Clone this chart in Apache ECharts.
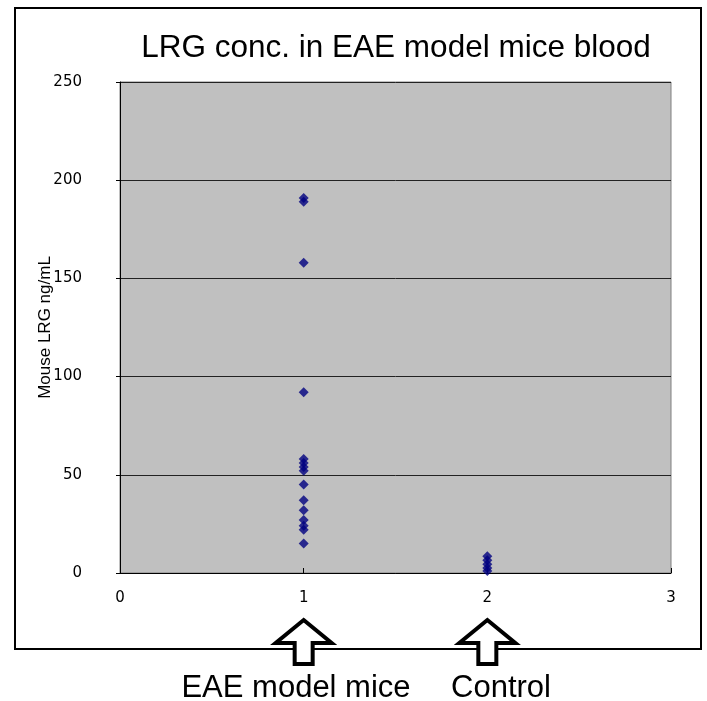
<!DOCTYPE html>
<html>
<head>
<meta charset="utf-8">
<script src="https://cdn.jsdelivr.net/npm/echarts@6/dist/echarts.min.js"></script>
<style>
html,body{margin:0;padding:0;background:#fff;}
#main{width:707px;height:701px;}
</style>
</head>
<body>
<div id="main"></div>
<script>
var titleText = 'LRG conc. in EAE model mice blood';
var yAxisName = 'Mouse LRG ng/mL';
var groupLabels = ['EAE model mice', 'Control'];
var groupX = [1, 2];
var eaeValues = [191, 189, 158, 92, 58, 56, 54, 52, 45, 37, 32, 27, 24, 22, 15];
var controlValues = [8.5, 6.5, 4.5, 2.5, 1];
var yTicks = [0, 50, 100, 150, 200, 250];
var xTicks = [0, 1, 2, 3];

var chart = echarts.init(document.getElementById('main'), null, {renderer: 'canvas'});

function pairs(x, vals) { return vals.map(function (v) { return [x, v]; }); }

var option = {
  backgroundColor: '#ffffff',
  animation: false,
  title: {
    text: titleText,
    left: 391, top: 27, textAlign: 'center',
    textStyle: {fontFamily: 'Liberation Sans', fontWeight: 'normal', fontSize: 31.5, color: '#000'}
  },
  grid: {left: 120, top: 82, right: 36, bottom: 128, show: true, backgroundColor: '#c0c0c0', borderColor: '#808080', borderWidth: 1},
  xAxis: {
    type: 'value', min: xTicks[0], max: xTicks[xTicks.length - 1], interval: 1,
    axisLine: {show: true, onZero: false, lineStyle: {color: '#000', width: 1}},
    axisTick: {show: true, inside: true, length: 5, lineStyle: {color: '#000'}},
    splitLine: {show: false},
    axisLabel: {margin: 18, fontFamily: 'DejaVu Sans', fontSize: 15, color: '#000'}
  },
  yAxis: {
    type: 'value', min: yTicks[0], max: yTicks[yTicks.length - 1], interval: 50,
    name: yAxisName, nameLocation: 'middle', nameGap: 66, nameRotate: 90, nameMoveOverlap: false,
    nameTextStyle: {fontFamily: 'Liberation Sans', fontSize: 17, color: '#000'},
    axisLine: {show: true, lineStyle: {color: '#000', width: 1}},
    axisTick: {show: true, inside: false, length: 4, lineStyle: {color: '#000'}},
    splitLine: {show: true, lineStyle: {color: '#222', width: 1}},
    axisLabel: {margin: 38, fontFamily: 'DejaVu Sans', fontSize: 15, color: '#000'}
  },
  series: [
    {type: 'scatter', symbol: 'diamond', symbolSize: 10, itemStyle: {color: '#000080'}, data: pairs(groupX[0], eaeValues)},
    {type: 'scatter', symbol: 'diamond', symbolSize: 10, itemStyle: {color: '#000080'}, data: pairs(groupX[1], controlValues)}
  ]
};
chart.setOption(option);

// annotations: border, arrows, group labels
var graphics = [{
  type: 'rect', shape: {x: 15, y: 8, width: 686, height: 641}, z: -1,
  style: {fill: 'none', stroke: '#000', lineWidth: 2}
}];
var labelCenters = [296, 501];
groupX.forEach(function (gx, i) {
  var px = chart.convertToPixel({gridIndex: 0}, [gx, 0])[0];
  var top = 620, headBase = 643, bottom = 664, hw = 28, sw = 9;
  graphics.push({
    type: 'polygon', z: 10,
    shape: {points: [[px, top], [px + hw, headBase], [px + sw, headBase], [px + sw, bottom], [px - sw, bottom], [px - sw, headBase], [px - hw, headBase]]},
    style: {fill: '#fff', stroke: '#000', lineWidth: 4, lineJoin: 'miter'}
  });
  graphics.push({
    type: 'text', z: 10, x: labelCenters[i], y: 688,
    style: {text: groupLabels[i], fill: '#000', font: '31px "Liberation Sans"', textAlign: 'center', textVerticalAlign: 'middle'}
  });
});
chart.setOption({graphic: graphics});
</script>
</body>
</html>
